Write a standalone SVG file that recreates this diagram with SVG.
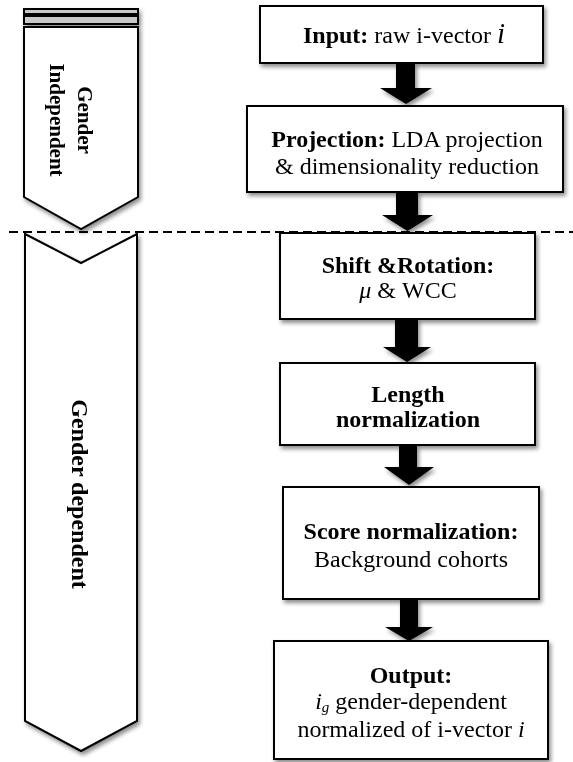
<svg xmlns="http://www.w3.org/2000/svg" width="573" height="762" viewBox="0 0 573 762">
<defs>
<filter id="sh" x="-20%" y="-20%" width="140%" height="140%">
<feDropShadow dx="2" dy="3" stdDeviation="2" flood-color="#000" flood-opacity="0.45"/>
</filter>
<style>
.box{fill:#fff;stroke:#000;stroke-width:2}
.arr{fill:#000;stroke:none}
.t{font-family:"Liberation Serif","Times New Roman",serif;font-size:24px;fill:#000;text-anchor:middle}
.b{font-weight:bold}
.i{font-style:italic}
.side{font-family:"Liberation Serif","Times New Roman",serif;font-weight:bold;fill:#000;text-anchor:middle}
</style>
</defs>
<rect width="573" height="762" fill="#fff"/>

<g id="gender-independent" filter="url(#sh)">
<rect x="24" y="9" width="114" height="5" fill="#c8c8c8" stroke="#000" stroke-width="2"/>
<rect x="24" y="16" width="114" height="8" fill="#c8c8c8" stroke="#000" stroke-width="2"/>
<polygon class="box" points="24,27 138,27 138,197 81,229 24,197"/>
<text class="side" font-size="21" transform="translate(85,120) rotate(90)" y="7">Gender</text>
<text class="side" font-size="21" transform="translate(57,120) rotate(90)" y="7">Independent</text>
</g>

<g id="divider">
<line x1="9" y1="232" x2="573" y2="232" stroke="#000" stroke-width="2" stroke-dasharray="9,5"/>
</g>

<g id="gender-dependent" filter="url(#sh)">
<polygon class="box" points="25,234 81,263 137,234 137,721 81,751 25,721"/>
<text class="side" font-size="24" transform="translate(80,494) rotate(90)" y="8">Gender dependent</text>
</g>

<g id="connectors" filter="url(#sh)">
<polygon class="arr" points="396,63 415,63 415,88 432,88 406,104 380,88 396,88"/>
<polygon class="arr" points="396,192 418,192 418,215 433,215 407.5,231 382,215 396,215"/>
<polygon class="arr" points="395,319 418,319 418,347 431,347 407,362 383,347 395,347"/>
<polygon class="arr" points="399,445 417,445 417,467 434,467 409,485 384,467 399,467"/>
<polygon class="arr" points="400,599 418,599 418,627 433,627 409,641 385,627 400,627"/>
</g>

<g id="input" filter="url(#sh)">
<rect class="box" x="260" y="6" width="283" height="57"/>
<text class="t" x="404" y="43"><tspan class="b">Input:</tspan> raw i-vector <tspan class="i" font-size="29">i</tspan></text>
</g>

<g id="projection" filter="url(#sh)">
<rect class="box" x="247" y="106" width="316" height="86"/>
<text class="t" x="407" y="147"><tspan class="b">Projection:</tspan> LDA projection</text>
<text class="t" x="407" y="174">&amp; dimensionality reduction</text>
</g>

<g id="shift-rotation" filter="url(#sh)">
<rect class="box" x="280" y="233" width="255" height="86"/>
<text class="t b" x="408" y="273">Shift &amp;Rotation:</text>
<text class="t" x="408" y="298"><tspan class="i">μ</tspan> &amp; WCC</text>
</g>

<g id="length-normalization" filter="url(#sh)">
<rect class="box" x="280" y="363" width="255" height="82"/>
<text class="t b" x="408" y="402">Length</text>
<text class="t b" x="408" y="427">normalization</text>
</g>

<g id="score-normalization" filter="url(#sh)">
<rect class="box" x="283" y="487" width="256" height="112"/>
<text class="t b" x="411" y="539">Score normalization:</text>
<text class="t" x="411" y="567">Background cohorts</text>
</g>

<g id="output" filter="url(#sh)">
<rect class="box" x="274" y="641" width="274" height="118"/>
<text class="t b" x="411" y="683">Output:</text>
<text class="t" x="411" y="709"><tspan class="i">i</tspan><tspan class="i" font-size="15" dy="3">g</tspan><tspan dy="-3"> gender-dependent</tspan></text>
<text class="t" x="411" y="737">normalized of i-vector <tspan class="i">i</tspan></text>
</g>
</svg>
